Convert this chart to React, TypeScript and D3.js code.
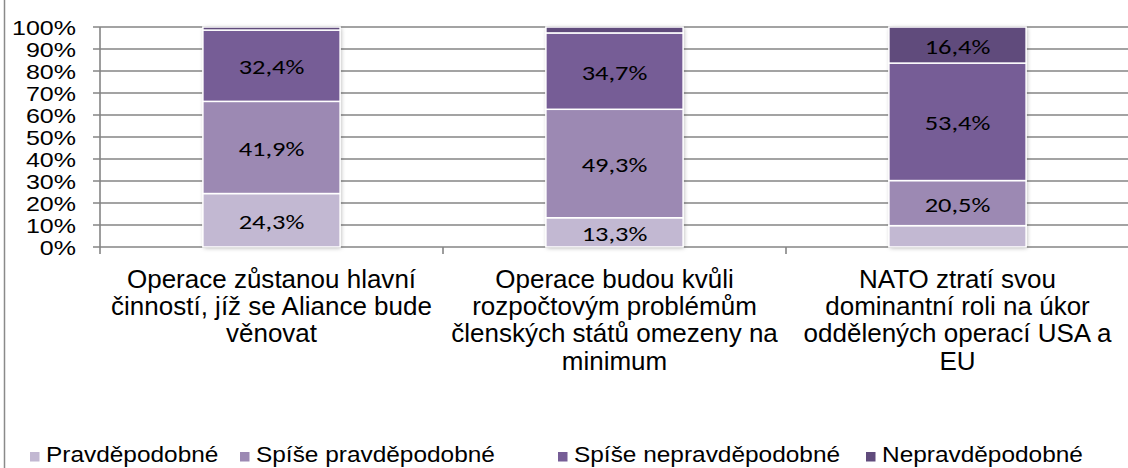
import React from "react";
import * as d3 from "d3";

const categories = ["c1", "c2", "c3"];
const categoryLines = [
  ["Operace zůstanou hlavní", "činností, jíž se Aliance bude", "věnovat"],
  ["Operace budou kvůli", "rozpočtovým problémům", "členských států omezeny na", "minimum"],
  ["NATO ztratí svou", "dominantní roli na úkor", "oddělených operací USA a", "EU"],
];
const seriesNames = ["Pravděpodobné", "Spíše pravděpodobné", "Spíše nepravděpodobné", "Nepravděpodobné"];
const pravdepodobne = [24.3, 13.3, 9.7];
const spisePravdepodobne = [41.9, 49.3, 20.5];
const spiseNepravdepodobne = [32.4, 34.7, 53.4];
const nepravdepodobne = [1.4, 2.7, 16.4];
// which segments carry a label
const showLabel = [
  [true, true, false],
  [true, true, true],
  [true, true, true],
  [false, false, true],
];
const yTicks = [0, 10, 20, 30, 40, 50, 60, 70, 80, 90, 100];
const colors = ["#c2b8d2", "#9c89b3", "#765d96", "#604b7c"];

const W = 1128;
const H = 468;
const plot = { left: 100, right: 1129, top: 27, bottom: 247 };
const arial = "'Liberation Sans', Arial, sans-serif";
const calibri = "Carlito, Calibri, Lato, sans-serif";

const fmt = (v: number) => v.toFixed(1).replace(".", ",") + "%";

const App = () => {
  const x = d3.scaleBand().domain(categories).range([plot.left, plot.right]).paddingInner(0.6).paddingOuter(0.3);
  const xTick = d3.scaleBand().domain(categories).range([plot.left, plot.right]);
  const y = d3.scaleLinear().domain([0, 100]).range([plot.bottom, plot.top]);

  const rows = categories.map((c, i) => ({
    c,
    s0: pravdepodobne[i],
    s1: spisePravdepodobne[i],
    s2: spiseNepravdepodobne[i],
    s3: nepravdepodobne[i],
  }));
  const stack = d3.stack<any>().keys(["s0", "s1", "s2", "s3"])(rows);

  const legendX = [30, 240, 558, 866];

  return (
    <svg width={W} height={H} style={{ position: "absolute", left: 0, top: 0, background: "#fff" }}>
      <defs>
        <filter id="sh" x="-10%" y="-10%" width="120%" height="120%">
          <feDropShadow dx="1" dy="1" stdDeviation="2" floodColor="#000" floodOpacity="0.3" />
        </filter>
      </defs>
      <line x1={4.5} x2={4.5} y1={0} y2={H} stroke="#8a8a8a" strokeWidth={1.5} />
      {yTicks.map((t) => (
        <g key={t}>
          <line x1={plot.left - 7} x2={plot.right} y1={y(t)} y2={y(t)} stroke="#858585" strokeWidth={1.6} />
          <text
            transform={`translate(76,${y(t) + 7.5}) scale(1.19,1)`}
            textAnchor="end"
            fontFamily={arial}
            fontSize={21}
            fill="#000"
          >
            {t}%
          </text>
        </g>
      ))}
      <line x1={plot.left} x2={plot.left} y1={plot.top} y2={plot.bottom + 7} stroke="#858585" strokeWidth={1.6} />
      {categories.map((c) => (
        <line
          key={c}
          x1={(xTick(c) as number) + xTick.bandwidth()}
          x2={(xTick(c) as number) + xTick.bandwidth()}
          y1={plot.bottom}
          y2={plot.bottom + 7}
          stroke="#858585"
          strokeWidth={1.6}
        />
      ))}
      {categories.map((c) => (
        <rect
          key={c}
          x={x(c)}
          y={y(100)}
          width={x.bandwidth()}
          height={y(0) - y(100)}
          fill="#fff"
          filter="url(#sh)"
        />
      ))}
      {stack.map((layer, si) =>
        layer.map((d, ci) => (
          <rect
            key={si + "-" + ci}
            x={x(categories[ci])}
            y={y(d[1])}
            width={x.bandwidth()}
            height={y(d[0]) - y(d[1])}
            fill={colors[si]}
            stroke="#fff"
            strokeWidth={1.5}
          />
        ))
      )}
      {stack.map((layer, si) =>
        layer.map((d, ci) =>
          showLabel[si][ci] ? (
            <text
              key={"l" + si + "-" + ci}
              transform={`translate(${(x(categories[ci]) as number) + x.bandwidth() / 2},${(y(d[0]) + y(d[1])) / 2 + 8.5}) scale(1.26,1)`}
              textAnchor="middle"
              fontFamily={calibri}
              fontSize={21}
              fill="#000"
            >
              {fmt(d[1] - d[0])}
            </text>
          ) : null
        )
      )}
      {categories.map((c, ci) => (
        <text
          key={"cat" + c}
          transform={`translate(${(xTick(c) as number) + xTick.bandwidth() / 2},288) scale(1.02,1)`}
          textAnchor="middle"
          fontFamily={arial}
          fontSize={25.5}
          fill="#000"
        >
          {categoryLines[ci].map((line, li) => (
            <tspan key={li} x={0} y={li * 27.2}>
              {line}
            </tspan>
          ))}
        </text>
      ))}
      {seriesNames.map((n, i) => (
        <g key={n}>
          <rect x={legendX[i]} y={452} width={9.5} height={9.5} fill={colors[i]} />
          <text
            transform={`translate(${legendX[i] + 16},462) scale(1.11,1)`}
            fontFamily={arial}
            fontSize={22}
            fill="#000"
          >
            {n}
          </text>
        </g>
      ))}
    </svg>
  );
};

export default App;
